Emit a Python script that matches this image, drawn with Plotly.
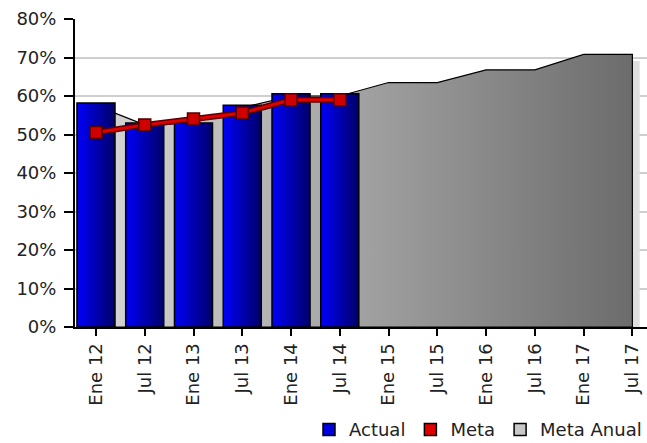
import plotly.graph_objects as go

periods = ["Ene 12", "Jul 12", "Ene 13", "Jul 13", "Ene 14", "Jul 14",
           "Ene 15", "Jul 15", "Ene 16", "Jul 16", "Ene 17", "Jul 17"]
actual = [0.582, 0.530, 0.530, 0.576, 0.606, 0.606]
meta = [0.505, 0.525, 0.540, 0.556, 0.590, 0.590]
meta_anual = [0.575, 0.525, 0.530, 0.570, 0.600, 0.600,
              0.635, 0.635, 0.668, 0.668, 0.708, 0.708]

pos = list(range(len(periods)))
pos_actual = pos[:len(actual)]
bar_w = 0.78
font = "DejaVu Sans"

fig = go.Figure()

# soft shadow behind the yearly target area
fig.add_trace(go.Scatter(
    x=[p + 0.15 for p in pos] + [pos[-1] + 0.15, pos[0] + 0.15],
    y=[v - 0.017 for v in meta_anual] + [0, 0],
    fill="toself", fillcolor="#dedede", mode="none",
    showlegend=False, hoverinfo="skip",
))

# yearly target area with grey gradient, closed down to the baseline
fig.add_trace(go.Scatter(
    x=pos + [pos[-1], pos[0]],
    y=meta_anual + [0, 0],
    fill="toself", mode="lines",
    line=dict(color="black", width=1.2),
    fillgradient=dict(type="horizontal",
                      colorscale=[[0, "#d6d6d6"], [1, "#6c6c6c"]]),
    showlegend=False, hoverinfo="skip",
))

# actual bars: horizontal gradient built from thin slices (overlay axes so they sit above the area)
n_slices = 14
step = bar_w / n_slices
c0 = (0, 0, 245)
c1 = (0, 0, 110)
for i in range(n_slices):
    t = i / (n_slices - 1)
    col = "rgb(%d,%d,%d)" % tuple(round(a + (b - a) * t) for a, b in zip(c0, c1))
    fig.add_trace(go.Bar(
        x=pos_actual, y=actual,
        width=min(step * 1.5, bar_w - i * step),
        offset=-bar_w / 2 + i * step,
        marker=dict(color=col, line=dict(width=0)),
        xaxis="x2", yaxis="y2", showlegend=False, hoverinfo="skip",
    ))
fig.add_trace(go.Bar(
    x=pos_actual, y=actual, width=bar_w, offset=-bar_w / 2,
    marker=dict(color="rgba(0,0,0,0)", line=dict(color="black", width=1.5)),
    xaxis="x2", yaxis="y2", showlegend=False, hoverinfo="skip",
))

# meta line with dark edge
fig.add_trace(go.Scatter(
    x=pos_actual, y=meta, mode="lines",
    line=dict(color="#5a0000", width=6),
    xaxis="x2", yaxis="y2", showlegend=False, hoverinfo="skip",
))
fig.add_trace(go.Scatter(
    x=pos_actual, y=meta, mode="lines+markers",
    line=dict(color="#e00000", width=3),
    marker=dict(symbol="square", size=12, color="#d00000",
                line=dict(color="#500000", width=1.5)),
    xaxis="x2", yaxis="y2", showlegend=False,
))

# legend entries (square swatches)
for name, col in [("Actual", "#0000e0"), ("Meta", "#e00000"), ("Meta Anual", "#c8c8c8")]:
    fig.add_trace(go.Bar(
        x=[None], y=[None], name=name,
        marker=dict(color=col, line=dict(color="black", width=1.5)),
    ))

xr = [-0.43, 11.3]
yr = [0, 0.8]
fig.update_layout(
    width=647, height=443,
    margin=dict(l=75, r=0, t=19, b=116, autoexpand=False),
    plot_bgcolor="white", paper_bgcolor="white",
    barmode="overlay",
    font=dict(family=font, size=18, color="#222222"),
    showlegend=True,
    legend=dict(orientation="h", xref="container", yref="container",
                x=1, xanchor="right", y=0.03, yanchor="middle",
                font=dict(size=18), itemclick=False, bgcolor="rgba(0,0,0,0)"),
    xaxis=dict(range=xr, tickmode="array", tickvals=pos, ticktext=periods,
               tickangle=-90, ticks="outside", ticklen=7, tickwidth=2,
               tickcolor="black", showline=True, linecolor="black",
               linewidth=2, showgrid=False, zeroline=False, automargin=False),
    yaxis=dict(range=yr, dtick=0.1, tickformat=".0%", ticks="outside",
               ticklen=9, tickwidth=2, tickcolor="black", showline=True,
               linecolor="black", linewidth=2, gridcolor="#cfcfcf",
               gridwidth=1.5, zeroline=False, automargin=False,
               ticklabelstandoff=4),
    xaxis2=dict(range=xr, overlaying="x", visible=False),
    yaxis2=dict(range=yr, overlaying="y", visible=False),
)

# drop the default page margin so the figure fills the window
fig.write_html("out.html", config={"displayModeBar": False},
               post_script="document.body.style.margin='0';")
